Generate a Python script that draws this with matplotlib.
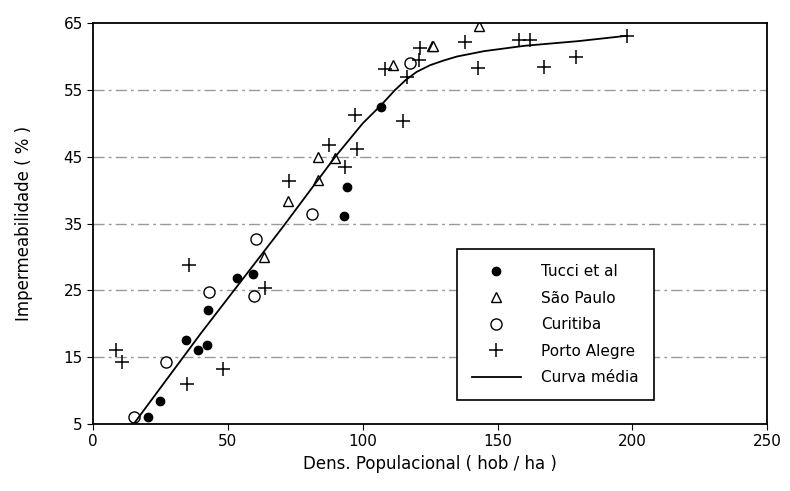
import numpy as np
import matplotlib.pyplot as plt

# Dados
tucci_x = [20.4, 24.9, 34.4, 38.8, 42.2, 42.4, 53.3, 59.1, 93.1, 94.1, 106.7]
tucci_y = [6.0, 8.4, 17.6, 16.0, 16.8, 22.0, 26.8, 27.4, 36.1, 40.4, 52.5]

sp_x = [63.2, 72.4, 83.3, 83.3, 89.8, 111.4, 125.6, 126.2, 143.3]
sp_y = [30.0, 38.3, 45.0, 41.5, 44.8, 58.7, 61.5, 61.5, 64.6]

cur_x = [15.0, 27.1, 42.8, 59.8, 60.3, 81.1, 117.6]
cur_y = [6.0, 14.3, 24.8, 24.1, 32.7, 36.5, 59.0]

poa_x = [8.5, 10.6, 34.7, 35.7, 48.1, 63.8, 72.7, 87.5, 93.3, 97.2, 97.8,
         108.3, 115.1, 116.3, 121.0, 121.3, 138.0, 142.6, 158.1, 162.1,
         167.4, 179.2, 197.9]
poa_y = [16.0, 14.3, 11.0, 28.8, 13.2, 25.3, 41.3, 46.8, 43.5, 51.3, 46.2,
         58.1, 50.3, 57.0, 59.5, 61.3, 62.2, 58.3, 62.5, 62.5,
         58.4, 59.9, 63.1]

curva_x = [15, 40, 70, 90, 100, 107, 112, 116, 120, 125, 130, 135, 145, 160, 180, 198]
curva_y = [5, 18.6, 34.3, 45.1, 50.0, 52.8, 55.0, 56.5, 57.7, 58.7, 59.4, 60.0, 60.8, 61.6, 62.3, 63.1]

fig = plt.figure(figsize=(7.9, 4.91), dpi=100)
ax = fig.add_axes([0.118, 0.1365, 0.853, 0.8165])

ax.plot(tucci_x, tucci_y, 'o', color='black', ms=6, label='Tucci et al')
ax.plot(sp_x, sp_y, '^', mfc='white', mec='black', ms=7, mew=1.0, label='São Paulo')
ax.plot(cur_x, cur_y, 'o', mfc='white', mec='black', ms=8, mew=1.0, label='Curitiba')
ax.plot(poa_x, poa_y, '+', color='black', ms=10, mew=1.1, label='Porto Alegre')
ax.plot(curva_x, curva_y, '-', color='black', lw=1.3, label='Curva média')

for yv in [15, 25, 35, 45, 55]:
    ax.axhline(yv, color='0.6', lw=1.0, ls=(0, (8, 3, 2, 3)), zorder=0)

ax.set_xlim(0, 250)
ax.set_ylim(5, 65)
ax.set_xticks(np.arange(0, 251, 50))
ax.set_yticks(np.arange(5, 66, 10))
ax.tick_params(direction='out', length=4, labelsize=11)
for s in ax.spines.values():
    s.set_linewidth(1.3)

ax.set_xlabel('Dens. Populacional ( hob / ha )', fontsize=12, labelpad=4)
ax.set_ylabel('Impermeabilidade ( % )', fontsize=12, labelpad=22)

leg = ax.legend(loc='lower right', bbox_to_anchor=(0.843, 0.04), fontsize=11,
                frameon=True, fancybox=False, edgecolor='black', framealpha=1,
                borderpad=1.0, labelspacing=0.75, handlelength=3.2, handletextpad=1.3)
leg.get_frame().set_linewidth(1.2)

fig.savefig('out.png', dpi=100)
